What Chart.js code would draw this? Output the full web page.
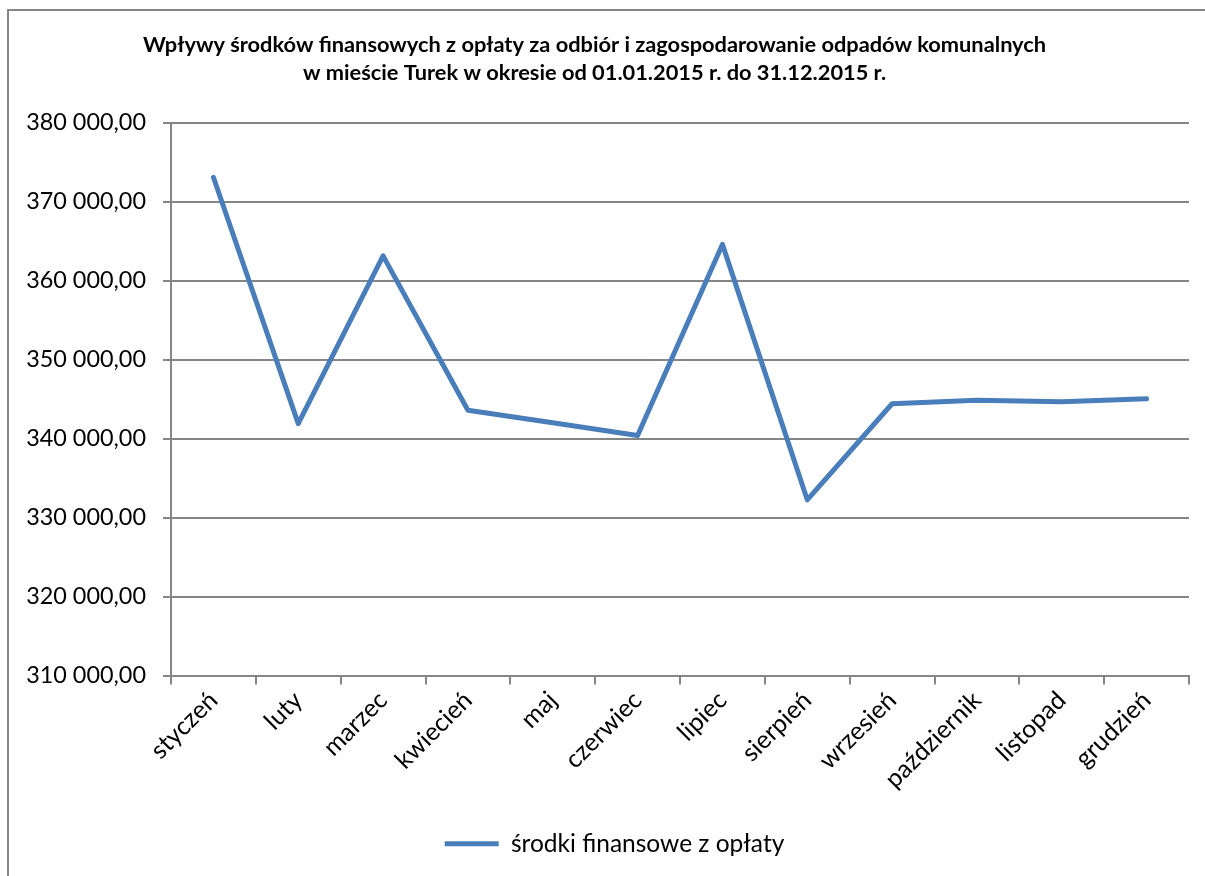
<!DOCTYPE html>
<html>
<head>
<meta charset="utf-8">
<script src="https://cdn.jsdelivr.net/npm/chart.js@4.4.1/dist/chart.umd.min.js"></script>
<style>
  html, body { margin:0; padding:0; background:#fff; overflow:hidden; }
  #frame { position:absolute; left:7px; top:9px; width:1300px; height:1000px;
           border-left:2px solid #868686; border-top:2px solid #868686; }
  #wrap { position:absolute; left:0; top:0; width:1205px; height:876px; }
</style>
</head>
<body>
<div id="frame"></div>
<div id="wrap"><canvas id="chart" width="1205" height="876"></canvas></div>
<script>
// month labels and monthly receipts (PLN)
const months = ['styczeń','luty','marzec','kwiecień','maj','czerwiec',
                'lipiec','sierpień','wrzesień','październik','listopad','grudzień'];
const receipts = [373100, 341900, 363150, 343600, 342000, 340400,
                  364600, 332250, 344420, 344850, 344680, 345050];
const seriesName = 'środki finansowe z opłaty';
const titleLines = [
  'Wpływy środków finansowych z opłaty za odbiór i zagospodarowanie odpadów komunalnych',
  'w mieście Turek w okresie od 01.01.2015 r. do 31.12.2015 r.'
];
const yMin = 310000, yMax = 380000, yStep = 10000;

const FONT = 'Lato, "Open Sans", sans-serif';
const GRID = '#868686';
const BLUE = '#4a7ebb';

function plFormat(v){
  // 380000 -> "380 000,00"
  const s = Math.round(v).toString().replace(/\B(?=(\d{3})+(?!\d))/g, ' ');
  return s + ',00';
}

const ctx = document.getElementById('chart').getContext('2d');
const chart = new Chart(ctx, {
  type: 'line',
  data: {
    labels: months,
    datasets: [{
      label: seriesName,
      data: receipts,
      borderColor: BLUE,
      backgroundColor: BLUE,
      borderWidth: 5,
      borderJoinStyle: 'round',
      borderCapStyle: 'round',
      pointRadius: 0,
      pointHoverRadius: 0,
      tension: 0,
      fill: false
    }]
  },
  options: {
    responsive: false,
    animation: false,
    events: [],
    layout: { padding: { left: 0, right: 16, top: 24, bottom: 10 } },
    plugins: {
      title: {
        display: true,
        text: titleLines,
        color: '#000',
        font: { family: FONT, size: 21.8, weight: 'bold', lineHeight: 1.28 },
        padding: { top: 7, bottom: 36 }
      },
      legend: {
        position: 'bottom',
        labels: {
          color: '#000',
          font: { family: FONT, size: 24.5 },
          usePointStyle: true,
          pointStyle: 'line',
          pointStyleWidth: 54,
          boxHeight: 5,
          padding: 10
        }
      },
      tooltip: { enabled: false }
    },
    scales: {
      x: {
        offset: true,
        grid: { offset: true, drawOnChartArea: false, drawTicks: true, tickLength: 9, color: GRID, lineWidth: 2 },
        border: { color: GRID, width: 2 },
        ticks: { color: '#000', font: { family: FONT, size: 25 }, minRotation: 45, maxRotation: 45, padding: 1 },
        afterFit: s => { s.height = 146; }
      },
      y: {
        min: yMin, max: yMax,
        grid: { color: GRID, lineWidth: 2, tickLength: 8 },
        border: { color: GRID, width: 2 },
        ticks: { stepSize: yStep, color: '#000', font: { family: FONT, size: 23.4 }, padding: 17,
                 callback: v => plFormat(v) },
        afterFit: s => { s.width = 171; }
      }
    }
  }
});

// the original legend sits ~20px right of centre
const legendDraw = chart.legend.draw;
chart.legend.draw = function(){
  ctx.save();
  ctx.translate(20, 0);
  legendDraw.call(this);
  ctx.restore();
};
chart.draw();
</script>
</body>
</html>
